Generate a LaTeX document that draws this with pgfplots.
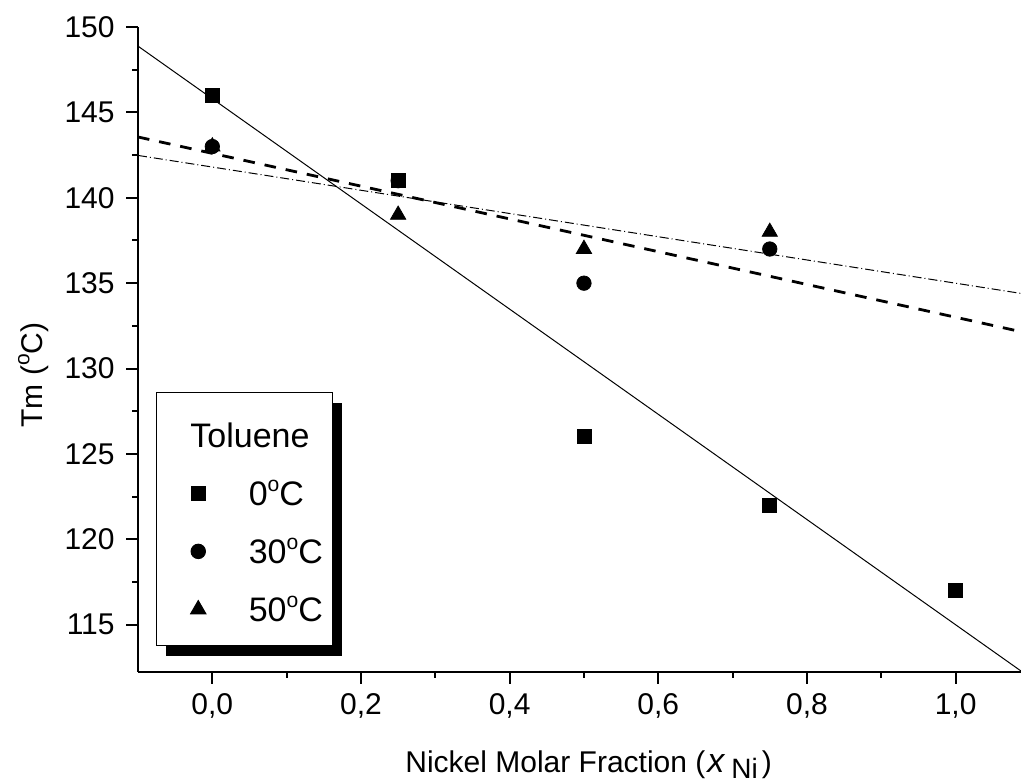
\documentclass[border=0pt]{standalone}
\usepackage{fontspec}
\setmainfont{Liberation Sans}
\usepackage{pgfplots}
\pgfplotsset{compat=1.18}
\usetikzlibrary{shadows}
\pgfplotsset{
  mkleg/.style={legend image code/.code={\path (-16pt,0pt) (8pt,0pt); \draw[##1] plot coordinates {(0pt,0pt)};}},
}
\newcommand\dg{\raisebox{0.42em}{\fontsize{0.62em}{1em}\selectfont o}}
\newcommand\dgl{\raisebox{0.42em}{\fontsize{10.5pt}{12pt}\selectfont o}}
\begin{document}
\fontsize{15}{18}\selectfont
\begin{tikzpicture}
\begin{axis}[
  scale only axis, width=441.5pt, height=322.35pt,
  xmin=-0.1, xmax=1.088, ymin=112.25, ymax=150,
  axis x line=bottom, axis y line=left,
  axis line style={-, line width=1pt, black},
  tick align=outside, major tick length=6pt, minor tick length=3pt,
  every tick/.style={black, line width=1pt},
  xtick={0,0.2,0.4,0.6,0.8,1.0}, minor x tick num=1,
  ytick={115,120,125,130,135,140,145,150}, minor y tick num=1,
  /pgf/number format/assume math mode=true,
  xticklabel style={/pgf/number format/.cd, fixed, fixed zerofill, precision=1, use comma, /tikz/.cd, anchor=north, inner sep=0pt},
  yticklabel style={anchor=east, inner sep=0pt},
  xticklabel shift=4.5pt, yticklabel shift=5.5pt,
  ticklabel style={font=\fontsize{15}{18}\selectfont},
  xlabel={Nickel Molar Fraction (\hspace{1pt}{\fontsize{17}{18}\selectfont\textit{x}}\hspace{3pt}\raisebox{-3pt}{\fontsize{14}{16}\selectfont Ni}\hspace{2pt})},
  ylabel={Tm (\dgl C)},
  xlabel style={at={(axis description cs:0.3024,0)}, anchor=base west, yshift=-50.2pt, inner sep=0pt, font=\fontsize{15}{18}\selectfont},
  ylabel style={at={(axis description cs:-0.1087,0.46)}, anchor=base, rotate=0, inner sep=0pt, font=\fontsize{15}{18}\selectfont},
  legend cell align=left,
  legend style={at={(axis description cs:0.02,0.4334)}, anchor=north west,
    draw=black, line width=0.5pt, fill=white,
    inner xsep=4.8pt, inner ysep=12.2pt, row sep=16.8pt, column sep=17pt,
    nodes={inner sep=0pt, text height=12.2pt, text depth=0pt},
    font=\fontsize{17}{20}\selectfont,
    drop shadow={shadow xshift=5pt, shadow yshift=-5pt, fill=black, opacity=1}},
]
% legend
\addlegendimage{empty legend}
\addlegendentry[text height=15.2pt]{\hspace*{-29.2pt}Toluene}
\addlegendimage{only marks, black, mark=square*, mark size=3.5pt, mark options={fill=black}, mkleg}
\addlegendentry{0\dg C}
\addlegendimage{only marks, black, mark=*, mark size=3.6pt, mark options={fill=black}, mkleg}
\addlegendentry{30\dg C}
\addlegendimage{only marks, black, mark=triangle*, mark size=4.4pt, mark options={fill=black}, mkleg}
\addlegendentry{50\dg C}

% fitted lines
\addplot[forget plot, black, line width=0.5pt] coordinates {(-0.1,148.88) (1.088,112.29)};
\addplot[forget plot, black, line width=1.4pt, dash pattern=on 5.8pt off 5pt] coordinates {(-0.1,143.56) (1.088,132.16)};
\addplot[forget plot, black, line width=0.5pt, dash pattern=on 4.5pt off 1.5pt on 0.5pt off 1.5pt] coordinates {(-0.1,142.48) (1.088,134.40)};

% data
\addplot[forget plot, only marks, black, mark=triangle*, mark size=4.4pt, mark options={fill=black}] coordinates {(0,143) (0.25,139) (0.5,137) (0.75,138)};
\addplot[forget plot, only marks, black, mark=*, mark size=3.6pt, mark options={fill=black}] coordinates {(0,143) (0.25,141) (0.5,135) (0.75,137)};
\addplot[forget plot, only marks, black, mark=square*, mark size=3.5pt, mark options={fill=black}] coordinates {(0,146) (0.25,141) (0.5,126) (0.75,122) (1.0,117)};
\end{axis}
\pgfresetboundingbox
\path[use as bounding box] ([xshift=-69pt,yshift=-55.15pt]current axis.south west) rectangle ([yshift=13.5pt]current axis.north east);
\end{tikzpicture}
\end{document}
